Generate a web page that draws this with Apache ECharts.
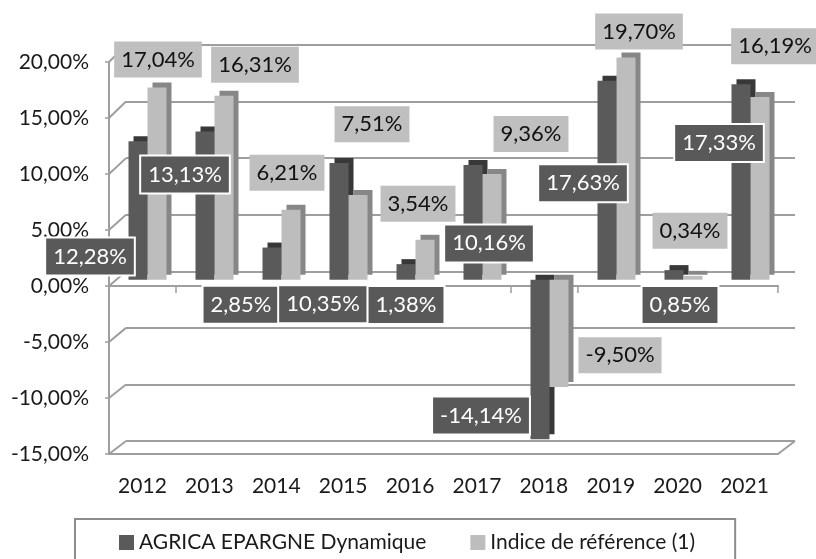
<!DOCTYPE html>
<html>
<head>
<meta charset="utf-8">
<script src="https://cdn.jsdelivr.net/npm/echarts@6/dist/echarts.min.js"></script>
<style>
html,body{margin:0;padding:0;background:#fff;}
#chart{width:816px;height:559px;}
</style>
</head>
<body>
<div id="chart"></div>
<script>
// ---- data ----
var categories = ['2012','2013','2014','2015','2016','2017','2018','2019','2020','2021'];
var seriesNames = ['AGRICA EPARGNE Dynamique', 'Indice de référence (1)'];
var agricaValues = [12.28, 13.13, 2.85, 10.35, 1.38, 10.16, -14.14, 17.63, 0.85, 17.33];
var indiceValues = [17.04, 16.31, 6.21, 7.51, 3.54, 9.36, -9.50, 19.70, 0.34, 16.19];
var yTicks = [-15, -10, -5, 0, 5, 10, 15, 20];

// ---- label placement (styling, relative to bar centre) ----
var agricaLabelOffsets = [[-48,46],[-20,-31],[-31,41],[-16,83],[0,33],[16,21],[-59,56],[-24,3],[6,30],[-22,-39]];
var indiceLabelOffsets = [[1,-124],[31,-123],[-4,-72],[14,-113],[-7,-56],[39,-93],[61,22],[13,-137],[-3,-47],[15,-142]];

var FONT = 'Lato';
function pct(v){ return v.toFixed(2).replace('.', ',') + '%'; }

var chart = echarts.init(document.getElementById('chart'), null, {renderer:'canvas'});
var gridCol = '#9e9e9e';

function buildData(values, offsets){
  return values.map(function(v,i){
    return {value: v, label: {offset: offsets[i]}};
  });
}

var option = {
  backgroundColor: '#fff',
  animation: false,
  grid: [
    {left: 109, top: 62, width: 669, height: 392},   // front plane
    {left: 126, top: 45, width: 669, height: 396},   // back wall
    {left: 114, top: 54, width: 670, height: 395}    // bars
  ],
  xAxis: [
    {type:'category', gridIndex:0, data: categories, position:'bottom',
     axisLine:{onZero:false, lineStyle:{color:gridCol, width:2}}, axisTick:{show:false},
     axisLabel:{margin:22, fontFamily:FONT, fontSize:21, color:'#1a1a1a'}},
    {type:'category', gridIndex:0, data: categories, position:'top',
     axisLine:{onZero:true, lineStyle:{color:gridCol, width:2}},
     axisTick:{show:true, inside:true, length:7, lineStyle:{color:gridCol, width:1.5}},
     axisLabel:{show:false}},
    {type:'category', gridIndex:1, data: categories, show:false},
    {type:'category', gridIndex:2, data: categories, show:false}
  ],
  yAxis: [
    {type:'value', gridIndex:0, min:-15, max:20, interval:5,
     axisLine:{show:true, lineStyle:{color:gridCol, width:2}},
     axisTick:{show:true, length:4, lineStyle:{color:gridCol, width:1.5}},
     splitLine:{show:false},
     axisLabel:{margin:20, fontFamily:FONT, fontSize:21, color:'#1a1a1a', formatter:function(v){return pct(v);}}},
    {type:'value', gridIndex:1, min:-15, max:20, interval:5,
     axisLine:{show:false}, axisTick:{show:false}, axisLabel:{show:false},
     splitLine:{show:true, lineStyle:{color:gridCol, width:2}}},
    {type:'value', gridIndex:2, min:-15, max:20, interval:5, show:false, splitLine:{show:false}}
  ],
  legend: {
    left: 75, top: 519, orient:'horizontal',
    data: seriesNames,
    icon: 'rect', itemWidth: 15, itemHeight: 15, itemGap: 44,
    padding: [13, 40, 20, 44],
    borderColor: '#8c8c8c', borderWidth: 2,
    textStyle: {fontFamily: FONT, fontSize: 21, color:'#1a1a1a'}
  },
  series: [
    {name: seriesNames[0], type:'bar', xAxisIndex:3, yAxisIndex:2,
     barWidth: 19, barGap: '0%',
     data: buildData(agricaValues, agricaLabelOffsets),
     itemStyle: {color:'#5a5a5a', shadowColor:'#383838', shadowOffsetX:5, shadowOffsetY:-5, shadowBlur:0},
     label: {show:true, position:'inside', formatter:function(p){return pct(p.value);},
       fontFamily:FONT, fontSize:22, color:'#fff', backgroundColor:'#595959',
       borderColor:'#fff', borderWidth:2, padding:[8,7,6,7]},
     z: 3},
    {name: seriesNames[1], type:'bar', xAxisIndex:3, yAxisIndex:2,
     barWidth: 19, barGap: '0%',
     data: buildData(indiceValues, indiceLabelOffsets),
     itemStyle: {color:'#bdbdbd', shadowColor:'#878787', shadowOffsetX:5, shadowOffsetY:-5, shadowBlur:0},
     label: {show:true, position:'inside', formatter:function(p){return pct(p.value);},
       fontFamily:FONT, fontSize:22, color:'#111', backgroundColor:'#bfbfbf',
       padding:[8,7,6,7]},
     z: 3}
  ]
};
chart.setOption(option);

// 3D-style connectors between the front plane and the back wall, derived from the axes
function drawConnectors(){
  var g0 = chart.getModel().getComponent('grid', 0).coordinateSystem.getRect();
  var g1 = chart.getModel().getComponent('grid', 1).coordinateSystem.getRect();
  var els = [];
  yTicks.forEach(function(v){
    var yf = chart.convertToPixel({yAxisIndex:0}, v);
    var yb = chart.convertToPixel({yAxisIndex:1}, v);
    els.push({type:'line', shape:{x1:g0.x, y1:yf, x2:g1.x, y2:yb},
      style:{stroke:gridCol, lineWidth:2}, z:1, silent:true});
  });
  var yf0 = chart.convertToPixel({yAxisIndex:0}, -15);
  var yb0 = chart.convertToPixel({yAxisIndex:1}, -15);
  els.push({type:'line', shape:{x1:g0.x+g0.width, y1:yf0, x2:g1.x+g1.width, y2:yb0},
    style:{stroke:gridCol, lineWidth:2}, z:1, silent:true});
  chart.setOption({graphic: els});
}
drawConnectors();
</script>
</body>
</html>
